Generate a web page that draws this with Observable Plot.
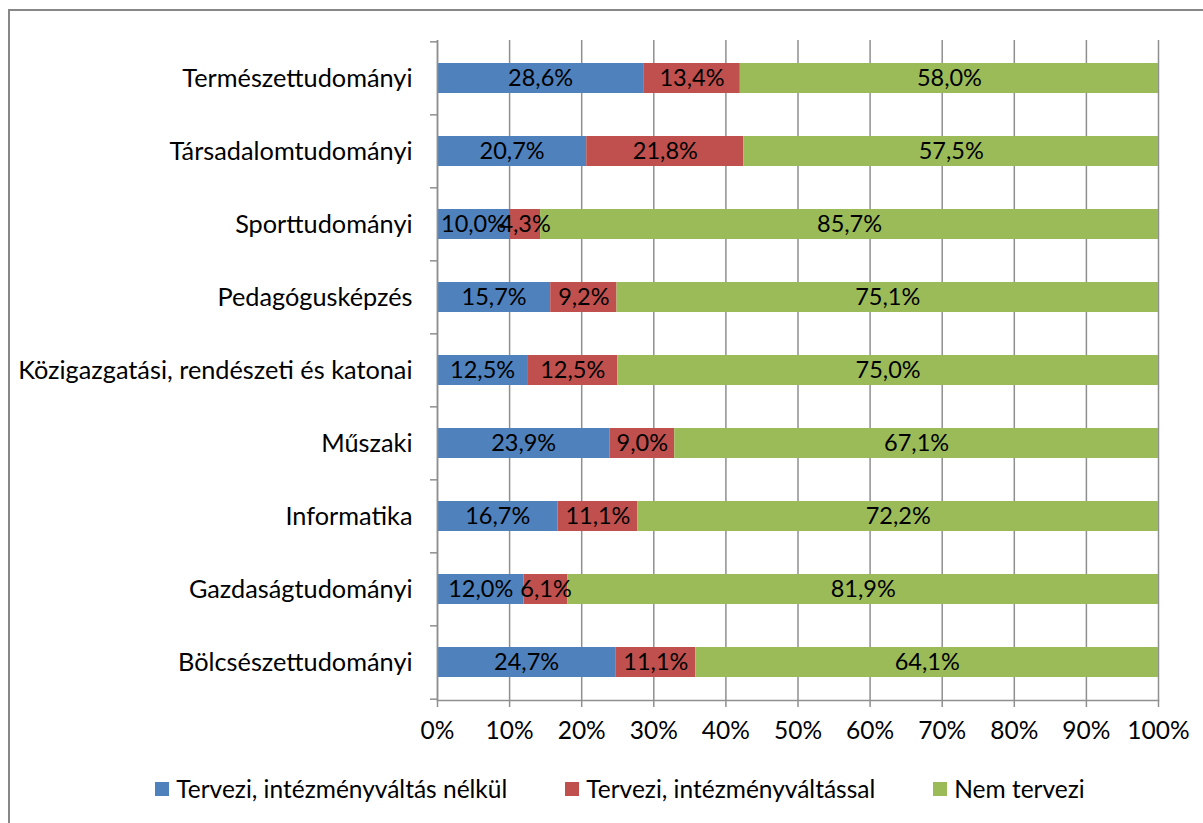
<!DOCTYPE html>
<html>
<head>
<meta charset="utf-8">
<script src="https://cdn.jsdelivr.net/npm/d3@7"></script>
<script src="https://cdn.jsdelivr.net/npm/@observablehq/plot@0.6"></script>
<style>
  html, body { margin: 0; padding: 0; background: #fff; overflow: hidden; width: 1203px; height: 823px; }
  #frame { position: absolute; left: 8px; top: 9px; width: 3000px; height: 3000px;
           border-left: 2px solid #878787; border-top: 2px solid #878787; }
  #chart { position: absolute; left: 0; top: 0; }
  #legend { position: absolute; left: 0; top: 774px; width: 1240px; display: flex; justify-content: center;
            gap: 58px; font-family: Lato, sans-serif; font-size: 24.5px; color: #000; }
  .item { display: flex; align-items: center; gap: 7px; }
  .sw { width: 14px; height: 14px; display: inline-block; }
</style>
</head>
<body>
<div id="frame"></div>
<div id="chart"></div>
<div id="legend"></div>
<script>
const categories = [
  "Természettudományi",
  "Társadalomtudományi",
  "Sporttudományi",
  "Pedagógusképzés",
  "Közigazgatási, rendészeti és katonai",
  "Műszaki",
  "Informatika",
  "Gazdaságtudományi",
  "Bölcsészettudományi"
];
const seriesNames = ["Tervezi, intézményváltás nélkül", "Tervezi, intézményváltással", "Nem tervezi"];
const seriesColors = ["#4F81BD", "#C0504D", "#9BBB59"];
const tervNelkul = [28.6, 20.7, 10.0, 15.7, 12.5, 23.9, 16.7, 12.0, 24.7];
const tervValtas = [13.4, 21.8, 4.3, 9.2, 12.5, 9.0, 11.1, 6.1, 11.1];
const nemTervezi = [58.0, 57.5, 85.7, 75.1, 75.0, 67.1, 72.2, 81.9, 64.1];
const xTicks = [0, 0.1, 0.2, 0.3, 0.4, 0.5, 0.6, 0.7, 0.8, 0.9, 1];

const seriesValues = [tervNelkul, tervValtas, nemTervezi];
const data = [];
categories.forEach((c, i) => {
  seriesNames.forEach((s, j) => data.push({cat: c, series: s, value: seriesValues[j][i]}));
});
const fmt = v => v.toFixed(1).replace(".", ",") + "%";

const W = 1203, H = 760, mt = 40, mb = 60, ml = 437, mr = 45;
const step = (H - mt - mb) / categories.length;
const gray = "#8f8f8f";

const chart = Plot.plot({
  width: W, height: H,
  marginLeft: ml, marginRight: mr, marginTop: mt, marginBottom: mb,
  style: {fontFamily: "Lato, sans-serif", fontSize: "24px", color: "#000", background: "transparent"},
  x: {domain: [0, 1]},
  y: {domain: categories, paddingInner: 0.59, paddingOuter: 0.295},
  color: {domain: seriesNames, range: seriesColors},
  marks: [
    Plot.gridX(xTicks, {stroke: gray, strokeOpacity: 1, strokeWidth: 1.5}),
    Plot.barX(data, Plot.stackX({offset: "normalize", x: "value", y: "cat", fill: "series", order: null})),
    Plot.text(data, Plot.stackX({offset: "normalize", x: "value", y: "cat", z: "series", order: null,
      text: d => fmt(d.value), fill: "#000", fontSize: 23.5})),
    Plot.ruleX([0], {stroke: gray, strokeWidth: 1.5}),
    Plot.frame({anchor: "bottom", stroke: gray, strokeWidth: 1.5}),
    Plot.axisY({tickSize: 0, tickPadding: 25, fontSize: 25.3, label: null, fill: "#000"}),
    Plot.axisY({tickSize: 7, text: null, label: null, dy: -step / 2, stroke: gray, strokeWidth: 1.5}),
    Plot.axisY([categories[categories.length - 1]], {tickSize: 7, text: null, label: null, dy: step / 2, stroke: gray, strokeWidth: 1.5}),
    Plot.axisX(xTicks, {tickSize: 7, tickPadding: 14, tickFormat: d3.format(".0%"), fontSize: 24.5,
      label: null, stroke: gray, strokeWidth: 1.5, fill: "#000"})
  ]
});
document.getElementById("chart").appendChild(chart);

const legend = document.getElementById("legend");
seriesNames.forEach((s, i) => {
  const it = document.createElement("div");
  it.className = "item";
  const sw = document.createElement("span");
  sw.className = "sw";
  sw.style.background = seriesColors[i];
  const t = document.createElement("span");
  t.textContent = s;
  it.appendChild(sw); it.appendChild(t);
  legend.appendChild(it);
});
</script>
</body>
</html>
